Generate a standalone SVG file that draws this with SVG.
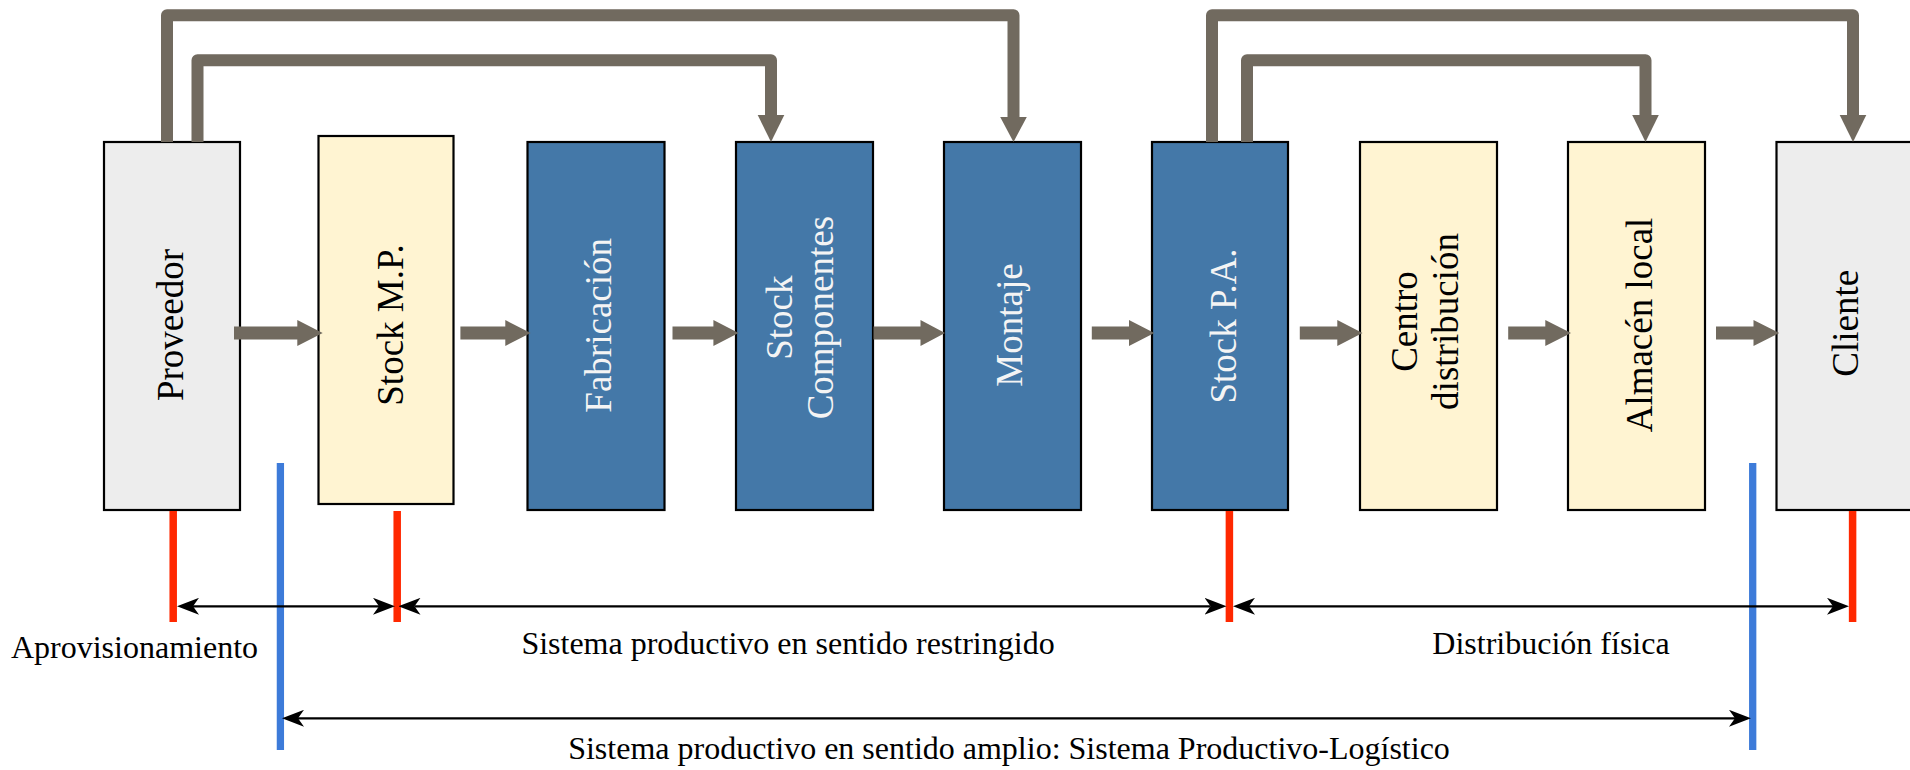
<svg xmlns="http://www.w3.org/2000/svg" width="1910" height="770" viewBox="0 0 1910 770">
  <style>
    .box { stroke: #000000; stroke-width: 2.2; }
    .gray { fill: #EDEDED; }
    .cream { fill: #FFF4D2; }
    .blue { fill: #4478A8; }
    .lbl { font-family: "Liberation Serif", "Times New Roman", serif; font-size: 37px; text-anchor: middle; }
    .dark { fill: #000000; }
    .light { fill: #F4F4F4; }
    .flow { fill: #716A5F; }
    .feed { fill: none; stroke: #716A5F; stroke-width: 12; stroke-linejoin: round; }
    .red { stroke: #FF2800; stroke-width: 7.5; }
    .bl { stroke: #3D7BD9; stroke-width: 7.3; }
    .dim { stroke: #000000; stroke-width: 2.2; fill: none; marker-start: url(#ah); marker-end: url(#ah); }
    .cap { font-family: "Liberation Serif", "Times New Roman", serif; font-size: 32px; text-anchor: middle; fill: #000000; }
  </style>
  <defs>
    <marker id="ah" viewBox="0 0 22 17" markerWidth="22" markerHeight="17" refX="6" refY="8.5" orient="auto-start-reverse" markerUnits="userSpaceOnUse">
      <path d="M0,0 L22,8.5 L0,17 L6,8.5 Z" fill="#000000"/>
    </marker>
  </defs>

  <rect width="1910" height="770" fill="#FFFFFF"/>

  <g id="proveedor">
    <rect class="box gray" x="104" y="142" width="136" height="368"/>
    <text class="lbl dark" transform="translate(182.5,325) rotate(-90)">Proveedor</text>
  </g>
  <g id="stock-mp">
    <rect class="box cream" x="318.5" y="136" width="135" height="368"/>
    <text class="lbl dark" transform="translate(402.5,325) rotate(-90)">Stock M.P.</text>
  </g>
  <g id="fabricacion">
    <rect class="box blue" x="527.5" y="142" width="137" height="368"/>
    <text class="lbl light" transform="translate(610.5,325.3) rotate(-90)">Fabricación</text>
  </g>
  <g id="stock-componentes">
    <rect class="box blue" x="736" y="142" width="137" height="368"/>
    <text class="lbl light" transform="translate(791.5,317.6) rotate(-90)"><tspan x="0" y="0">Stock</tspan><tspan x="0" dy="41">Componentes</tspan></text>
  </g>
  <g id="montaje">
    <rect class="box blue" x="944" y="142" width="137" height="368"/>
    <text class="lbl light" transform="translate(1022,325) rotate(-90)">Montaje</text>
  </g>
  <g id="stock-pa">
    <rect class="box blue" x="1152" y="142" width="136" height="368"/>
    <text class="lbl light" transform="translate(1236,326) rotate(-90)">Stock P.A.</text>
  </g>
  <g id="centro-distribucion">
    <rect class="box cream" x="1360" y="142" width="137" height="368"/>
    <text class="lbl dark" transform="translate(1416.5,321.5) rotate(-90)"><tspan x="0" y="0">Centro</tspan><tspan x="0" dy="41.5">distribución</tspan></text>
  </g>
  <g id="almacen-local">
    <rect class="box cream" x="1568" y="142" width="137" height="368"/>
    <text class="lbl dark" transform="translate(1651.5,325) rotate(-90)">Almacén local</text>
  </g>
  <g id="cliente">
    <rect class="box gray" x="1776.5" y="142" width="137" height="368"/>
    <text class="lbl dark" transform="translate(1858,323.3) rotate(-90)">Cliente</text>
  </g>

  <g id="connectors">
    <!-- feedback / information flows -->
    <path class="feed" d="M167,142 V15.2 H1013.5 V118"/>
    <polygon class="flow" points="1000.2,117 1026.8,117 1013.5,142"/>
    <path class="feed" d="M197.5,142 V60.2 H771 V116"/>
    <polygon class="flow" points="757.7,115 784.3,115 771,142"/>
    <path class="feed" d="M1212,142 V15.2 H1853 V116"/>
    <polygon class="flow" points="1839.7,115 1866.3,115 1853,142"/>
    <path class="feed" d="M1247,142 V60.2 H1645.5 V116"/>
    <polygon class="flow" points="1632.2,115 1658.8,115 1645.5,142"/>

    <!-- material flow arrows -->
    <path class="flow" d="M234,326.5 H297.3 V320 L322.7,333 L297.3,346 V339.5 H234 Z"/>
    <path class="flow" d="M460.4,326.5 H505.3 V320 L530.6,333 L505.3,346 V339.5 H460.4 Z"/>
    <path class="flow" d="M672.5,326.5 H713.4 V320 L738.6,333 L713.4,346 V339.5 H672.5 Z"/>
    <path class="flow" d="M873.5,326.5 H920.5 V320 L945,333 L920.5,346 V339.5 H873.5 Z"/>
    <path class="flow" d="M1091.8,326.5 H1129 V320 L1154.3,333 L1129,346 V339.5 H1091.8 Z"/>
    <path class="flow" d="M1299.8,326.5 H1337.3 V320 L1362.5,333 L1337.3,346 V339.5 H1299.8 Z"/>
    <path class="flow" d="M1508.2,326.5 H1545.3 V320 L1571,333 L1545.3,346 V339.5 H1508.2 Z"/>
    <path class="flow" d="M1716,326.5 H1753.5 V320 L1779.3,333 L1753.5,346 V339.5 H1716 Z"/>

    <!-- boundary markers -->
    <line class="red" x1="173.2" y1="511" x2="173.2" y2="622"/>
    <line class="red" x1="397.2" y1="511" x2="397.2" y2="622"/>
    <line class="red" x1="1229.4" y1="511" x2="1229.4" y2="622"/>
    <line class="red" x1="1852.6" y1="511" x2="1852.6" y2="622"/>
    <line class="bl" x1="280.4" y1="463" x2="280.4" y2="750"/>
    <line class="bl" x1="1752.7" y1="463" x2="1752.7" y2="750"/>

    <!-- extent arrows -->
    <line class="dim" x1="193" y1="606.3" x2="379" y2="606.3"/>
    <line class="dim" x1="414.5" y1="606.3" x2="1210.5" y2="606.3"/>
    <line class="dim" x1="1249" y1="606.3" x2="1833" y2="606.3"/>
    <line class="dim" x1="298" y1="718.3" x2="1735" y2="718.3"/>
  </g>

  <g id="labels">
    <text class="cap" x="134.5" y="658">Aprovisionamiento</text>
    <text class="cap" x="788" y="654">Sistema productivo en sentido restringido</text>
    <text class="cap" x="1551" y="654">Distribución física</text>
    <text class="cap" x="1009" y="759">Sistema productivo en sentido amplio: Sistema Productivo-Logístico</text>
  </g>
</svg>
